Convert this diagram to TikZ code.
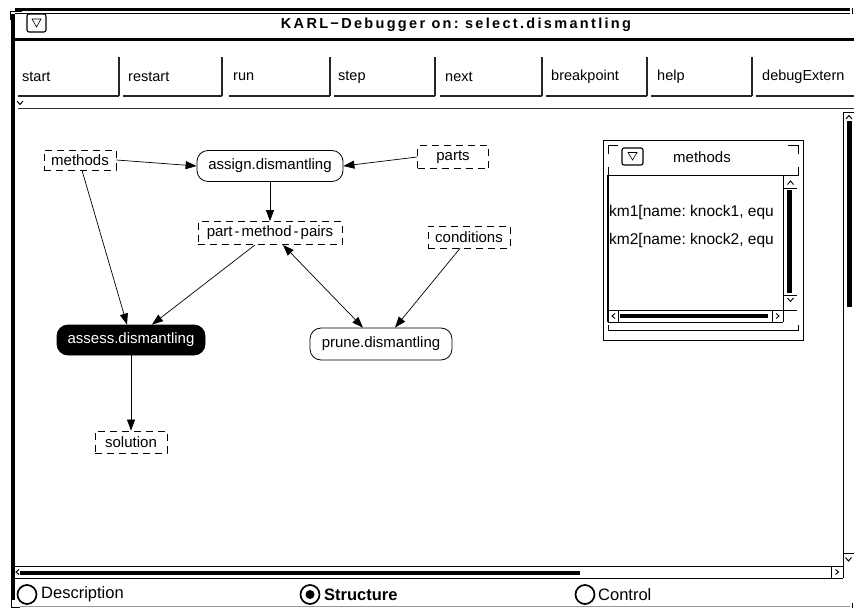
\documentclass[tikz,border=0pt]{standalone}
\usepackage{fontspec}
\setmainfont{Liberation Sans}
\newfontfamily\titlefont[LetterSpace=16]{Liberation Sans}
\usetikzlibrary{arrows.meta}
\frenchspacing

\begin{document}
\begin{tikzpicture}[x=1pt,y=-1pt,
  every node/.style={font=\fontsize{15}{18}\selectfont, inner sep=0pt},
  dashbox/.style={draw, dash pattern=on 7pt off 5pt, line width=0.8pt, minimum height=22pt},
  procbox/.style={draw, rounded corners=11pt, line width=0.8pt, minimum height=30pt},
  activebox/.style={procbox, fill=black, text=white},
  link/.style={line width=0.7pt, -{Triangle[length=11pt,width=8pt]}},
  dlink/.style={line width=0.7pt, {Triangle[length=11pt,width=8pt]}-{Triangle[length=11pt,width=8pt]}},
  btn/.style={anchor=west, font=\fontsize{14.5}{17}\selectfont},
  radio/.style={anchor=west, font=\fontsize{16.5}{19}\selectfont},
  thin/.style={line width=0.8pt},
  menubox/.style={draw, rounded corners=2pt, line width=1.1pt},
]
\useasboundingbox (0,0) rectangle (854,610);
\fill[white] (0,0) rectangle (854,610);

% ---- window frame ----
\draw[line width=3pt] (15,9.5) -- (850,9.5);
\draw[thin] (15,13) -- (850,13);
\draw[thin] (852,8) -- (852,14);
\draw[line width=4pt] (13,14) -- (13,600);
\draw[thin] (10,20) -- (10,11) -- (22,11);
\draw[line width=2.5pt] (15,39.5) -- (854,39.5);

% title bar
\draw[menubox] (27,14) rectangle (46,32);
\draw[line width=0.6pt] (32,19) -- (41,19) -- (36.5,27) -- cycle;
\node[font=\titlefont\bfseries\fontsize{14.5}{16}\selectfont] (title) at (456,25)
  {KARL−Debugger on: select.dismantling};

% ---- button row ----
\foreach \t/\tx/\l/\r in {start/22/18/119, restart/128/123/222, run/233/229/330,
    step/338/334/435, next/445/440/542, breakpoint/551/546/647, help/657/651/752,
    debugExtern/762/756/870}{
  \node[btn] (b-\t) at (\tx,77) {\t};
  \draw[line width=1.2pt, black!85] (\l,96) -- (\r,96);
  \draw[line width=1.2pt, black!85] (\r,57) -- (\r,96);
}
\draw[line width=1pt] (17,101) -- (20,104.5) -- (23,101);
\draw[line width=1pt, black!80] (18,108) -- (854,108);

% ---- vertical scrollbar ----
\draw[thin] (843,112) -- (843,566);
\draw[thin] (843,112) -- (854,112);
\draw[line width=1pt] (846,119) -- (849,115.5) -- (852,119);
\fill (847,121) rectangle (852,307);
\draw[thin] (843,553) -- (854,553);
\draw[line width=1pt] (845.5,557.5) -- (848.5,561) -- (851.5,557.5);

% ---- horizontal scrollbar ----
\draw[thin] (15,566) -- (843,566);
\draw[thin] (15,578) -- (843,578);
\draw[thin] (843,566) -- (843,578);
\draw[thin] (831,566) -- (831,578);
\draw[line width=1pt] (19,569.5) -- (16,572) -- (19,574.5);
\fill (20,571) rectangle (580,575);
\draw[line width=1pt] (835.5,569.5) -- (838.5,572) -- (835.5,574.5);

% bottom edge
\draw[thin, black!40] (20,606) -- (850,606);
\draw[thin] (11,600) -- (11,607) -- (20,607);
\draw[thin] (852,603) -- (852,608);

% ---- radio buttons ----
\draw[line width=1.7pt] (27,594.5) circle[radius=9.5pt];
\node[radio] (rdesc) at (41,594.5) {Description};
\draw[line width=1.7pt] (310,594.5) circle[radius=9.5pt];
\fill (310,594.5) circle[radius=4.5pt];
\node[radio, font=\bfseries\fontsize{16.5}{19}\selectfont] (rstruct) at (324,594.5) {Structure};
\draw[line width=1.7pt] (585,594.5) circle[radius=9.5pt];
\node[radio] (rctrl) at (598,594.5) {Control};

% ---- structure graph ----
\node[dashbox, minimum width=72pt, minimum height=20pt] (methods) at (80,160) {methods};
\node[procbox, minimum width=146pt, minimum height=31pt] (assign) at (270,166) {assign.dismantling};
\node[dashbox, minimum width=71pt, minimum height=23pt] (parts) at (453,157) {parts};
\node[dashbox, minimum width=144pt, minimum height=23pt] (pmp) at (270,233)
  {part\kern2pt-\kern2pt method\kern2pt-\kern2pt pairs};
\node[dashbox, minimum width=82pt] (conditions) at (469,237) {conditions};
\node[activebox, minimum width=148pt] (assess) at (131,340) {assess.dismantling};
\node[procbox, minimum width=142pt, minimum height=32pt] (prune) at (381,344) {prune.dismantling};
\node[dashbox, minimum width=72pt] (solution) at (131,442) {solution};

\draw[link] (methods.east) -- (assign.west);
\draw[link] (parts.west) -- (assign.east);
\draw[link] (assign.south) -- (pmp.north);
\draw[link] ([xshift=2pt]methods.south) -- ([xshift=-4pt]assess.north);
\draw[link] ([xshift=-15pt]pmp.south) -- ([xshift=21pt]assess.north);
\draw[dlink] ([xshift=13pt]pmp.south) -- ([xshift=-18pt]prune.north);
\draw[link] ([xshift=-9pt]conditions.south) -- ([xshift=14pt]prune.north);
\draw[link] (assess.south) -- (solution.north);

% ---- inspector window "methods" ----
\draw[thin] (603,140) rectangle (803,340);
\draw[thin] (608,154) -- (608,145) -- (618,145);
\draw[thin] (788,145) -- (798,145) -- (798,154);
\draw[thin] (608,167) -- (608,175) -- (798,175) -- (798,167);
\draw[thin] (608,325) -- (608,330) -- (798,330) -- (798,325);
\draw[menubox] (622,148) rectangle (643,165);
\draw[line width=0.6pt] (628,152.5) -- (637,152.5) -- (632.5,160) -- cycle;
\node (wtitle) at (702,157) {methods};
% content pane, its text cut off at the scrollbar
\draw[line width=1.6pt] (608,175) -- (608,322);
\begin{scope}
  \clip (609,176) rectangle (782,309);
  \node[anchor=west, font=\fontsize{15.5}{18}\selectfont] (km1) at (609,212) {km1[name: knock1, equ};
  \node[anchor=west, font=\fontsize{15.5}{18}\selectfont] (km2) at (609,240) {km2[name: knock2, equ};
\end{scope}
% its vertical scrollbar
\draw[thin] (783,176) -- (783,310);
\draw[line width=0.9pt] (787.5,184.5) -- (790.5,181) -- (793.5,184.5);
\draw[thin] (783,188) -- (797,188);
\fill (787,190) rectangle (792,293);
\draw[thin] (783,295) -- (797,295);
\draw[line width=0.9pt] (787.5,298) -- (790.5,301.5) -- (793.5,298);
% its horizontal scrollbar
\draw[thin] (608,310) -- (797,310);
\draw[thin] (608,322) -- (783,322);
\draw[thin] (783,310) -- (783,322);
\draw[line width=0.9pt] (615,313.5) -- (612,316) -- (615,318.5);
\draw[thin] (618,310) -- (618,322);
\fill (620,313.5) rectangle (768,317.5);
\draw[thin] (772,310) -- (772,322);
\draw[line width=0.9pt] (776,313.5) -- (779,316) -- (776,318.5);
\end{tikzpicture}
\end{document}
